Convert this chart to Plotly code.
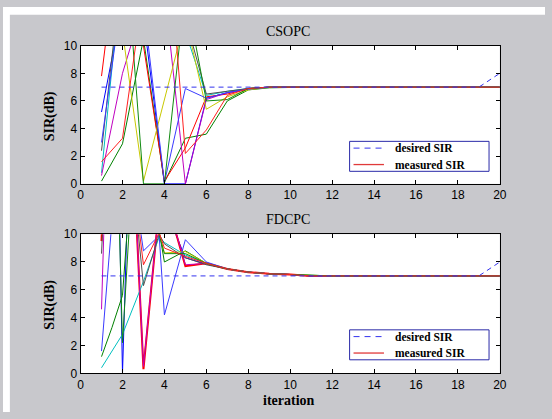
import plotly.graph_objects as go

W, H = 552, 419

# ---------------- data ----------------
iteration_top = [1, 2, 3, 4, 5, 6, 7, 8, 9, 10, 11, 12, 13, 14, 15, 16, 17, 18, 19, 20]
tail_top = [7.0, 7.0, 7.0, 7.0, 7.0, 7.0, 7.0, 7.0, 7.0, 7.0, 7.0]  # iterations 10..20

csopc_u1 = [5.2, 13, 12, 0.0, 0.0, 6.2, 6.6, 6.9, 7.0]
csopc_u2 = [0.2, 2.9, 10.5, 0.1, 3.3, 3.6, 6.0, 6.8, 6.95]
csopc_u3 = [7.8, 20, 10, 0.2, 2.6, 6.3, 6.5, 6.9, 7.0]
csopc_u4 = [0.8, 16, 13, 12, 11, 6.4, 6.7, 6.9, 7.0]
csopc_u5 = [0.6, 8.0, 13, 14, 0.0, 6.1, 6.6, 6.85, 7.0]
csopc_u6 = [13, 11, 0.2, 6.0, 12, 5.4, 6.3, 6.8, 7.0]
csopc_u7 = [2.4, 16, 15, 13, 12, 6.5, 6.7, 6.9, 7.0]
csopc_u8 = [3.0, 14, 13, 0.1, 6.9, 6.2, 6.6, 6.85, 7.0]
csopc_u9 = [15, 20, 0.0, 0.0, 14, 6.0, 6.1, 6.9, 7.0]
csopc_u10 = [1.6, 3.3, 14, 21, 2.2, 3.9, 6.4, 6.9, 7.0]

iteration_bot = [1, 1.5, 2, 2.5, 3, 3.75, 4, 5, 6, 7, 8, 9, 10, 11, 12, 13, 14, 15, 16, 17, 18, 19, 20]
tail_bot = [7.5, 7.27, 7.15, 7.1, 7.0, 7.0, 7.0, 7.0, 7.0, 7.0, 7.0, 7.0, 7.0, 7.0]  # iterations 7..20

fdcpc_u1 = [12, 40, 0.0, 25, 14, 14, 12, 8.3, 7.85]
fdcpc_u2 = [1.2, 3.3, 5.6, 16, 14, 10.2, 8.0, 8.8, 7.9]
fdcpc_u3 = [9.5, 30, 14, 16, 0.3, 12, 13, 7.7, 7.9]
fdcpc_u4 = [0.4, 1.6, 2.8, 4.7, 6.6, 9.8, 9.4, 8.5, 7.9]
fdcpc_u5 = [4.6, 30, 14, 16, 0.5, 12, 13, 7.8, 7.9]
fdcpc_u6 = [14, 16, 18, 14, 12, 10.1, 8.65, 8.75, 7.9]
fdcpc_u7 = [8.6, 25, 16, 14, 6.3, 10.0, 9.3, 8.3, 7.8]
fdcpc_u8 = [1.6, 11, 14, 14, 8.8, 9.9, 4.2, 9.6, 8.0]
fdcpc_u9 = [14, 30, 2.2, 15, 14, 10.0, 8.6, 8.6, 7.9]
fdcpc_u10 = [13, 25, 18, 14, 7.8, 10.1, 9.0, 8.4, 7.9]

desired_x = [1, 19, 20]
desired_y = [7, 7, 8]

titles = ["CSOPC", "FDCPC"]
legend_labels = ["desired SIR", "measured SIR"]
x_ticks = [0, 2, 4, 6, 8, 10, 12, 14, 16, 18, 20]
y_ticks = [0, 2, 4, 6, 8, 10]

# ---------------- style ----------------
colors = ["#0000ff", "#008000", "#ff0000", "#00bfbf", "#bf00bf",
          "#c8c800", "#505050", "#3a3aff", "#108a10", "#ff2020"]
GRAY = "#c8c8cc"
DESIRED_COLOR = "#3333ee"
MEASURED_COLOR = "#e03a3a"


def px(x):
    return x / W


def py(y):
    return 1 - y / H


fig = go.Figure()

top_series = [csopc_u1, csopc_u2, csopc_u3, csopc_u4, csopc_u5,
              csopc_u6, csopc_u7, csopc_u8, csopc_u9, csopc_u10]
bot_series = [fdcpc_u1, fdcpc_u2, fdcpc_u3, fdcpc_u4, fdcpc_u5,
              fdcpc_u6, fdcpc_u7, fdcpc_u8, fdcpc_u9, fdcpc_u10]

for i, s in enumerate(top_series):
    fig.add_trace(go.Scatter(x=iteration_top, y=s + tail_top, mode="lines",
                             line=dict(color=colors[i], width=1),
                             showlegend=False, xaxis="x", yaxis="y",
                             hoverinfo="skip"))
fig.add_trace(go.Scatter(x=desired_x, y=desired_y, mode="lines",
                         line=dict(color=DESIRED_COLOR, width=1, dash="5px,4px"),
                         showlegend=False, xaxis="x", yaxis="y"))

for i, s in enumerate(bot_series):
    fig.add_trace(go.Scatter(x=iteration_bot, y=s + tail_bot, mode="lines",
                             line=dict(color=colors[i], width=2 if i == 2 else 1),
                             showlegend=False, xaxis="x2", yaxis="y2",
                             hoverinfo="skip"))
fig.add_trace(go.Scatter(x=desired_x, y=desired_y, mode="lines",
                         line=dict(color=DESIRED_COLOR, width=1, dash="5px,4px"),
                         showlegend=False, xaxis="x2", yaxis="y2"))

tickfont = dict(family="Liberation Sans, Arial, sans-serif", size=12, color="black")
xdom = [px(79), px(506)]
axis_common = dict(showline=True, linecolor="black", linewidth=1, mirror="ticks",
                   ticks="inside", ticklen=4, tickcolor="black", tickwidth=1,
                   showgrid=False, zeroline=False, tickfont=tickfont)

fig.update_layout(
    width=W, height=H,
    margin=dict(l=0, r=0, t=0, b=0),
    paper_bgcolor=GRAY, plot_bgcolor="white",
    showlegend=False,
    xaxis=dict(domain=xdom, range=[0, 20], tickvals=x_ticks, anchor="y", **axis_common),
    yaxis=dict(domain=[py(183), py(40)], range=[0, 10], tickvals=y_ticks, anchor="x", **axis_common),
    xaxis2=dict(domain=xdom, range=[0, 20], tickvals=x_ticks, anchor="y2", **axis_common),
    yaxis2=dict(domain=[py(379), py(235)], range=[0, 10], tickvals=y_ticks, anchor="x2", **axis_common),
)

shapes = [
    # white strips at top and left of the figure
    dict(type="rect", xref="paper", yref="paper", x0=0, x1=1, y0=py(8), y1=1,
         fillcolor="white", line=dict(width=0), layer="below"),
    dict(type="rect", xref="paper", yref="paper", x0=0, x1=px(7), y0=0, y1=1,
         fillcolor="white", line=dict(width=0), layer="below"),
]
annotations = []
serif = "Liberation Serif, Times New Roman, serif"

for k, dy in enumerate([0, 195]):
    # legend box
    shapes.append(dict(type="rect", xref="paper", yref="paper",
                       x0=px(353), x1=px(495), y0=py(170 + dy), y1=py(139 + dy),
                       fillcolor="white", line=dict(color="#2a2aa8", width=1)))
    shapes.append(dict(type="line", xref="paper", yref="paper",
                       x0=px(357), x1=px(388), y0=py(146 + dy), y1=py(146 + dy),
                       line=dict(color=DESIRED_COLOR, width=1, dash="6px,5px")))
    shapes.append(dict(type="line", xref="paper", yref="paper",
                       x0=px(357), x1=px(388), y0=py(163 + dy), y1=py(163 + dy),
                       line=dict(color=MEASURED_COLOR, width=1.3)))
    for j, lab in enumerate(legend_labels):
        annotations.append(dict(text=lab, xref="paper", yref="paper",
                                x=px(397), y=py(146 + 17 * j + dy),
                                xanchor="left", yanchor="middle", showarrow=False,
                                font=dict(family=serif, size=11.5, color="black", weight="bold")))
    # title
    annotations.append(dict(text=titles[k], xref="paper", yref="paper",
                            x=px(290), y=py(25 + dy), xanchor="center", yanchor="middle",
                            showarrow=False, font=dict(family=serif, size=14, color="black")))
    # y axis title
    annotations.append(dict(text="SIR(dB)", xref="paper", yref="paper",
                            x=px(48), y=py(113 + dy), xanchor="center", yanchor="middle",
                            textangle=-90, showarrow=False,
                            font=dict(family=serif, size=14, color="black", weight="bold")))

annotations.append(dict(text="iteration", xref="paper", yref="paper",
                        x=px(291), y=py(407), xanchor="center", yanchor="middle",
                        showarrow=False,
                        font=dict(family=serif, size=14, color="black", weight="bold")))

fig.update_layout(shapes=shapes, annotations=annotations)

fig.write_html("out.html")
